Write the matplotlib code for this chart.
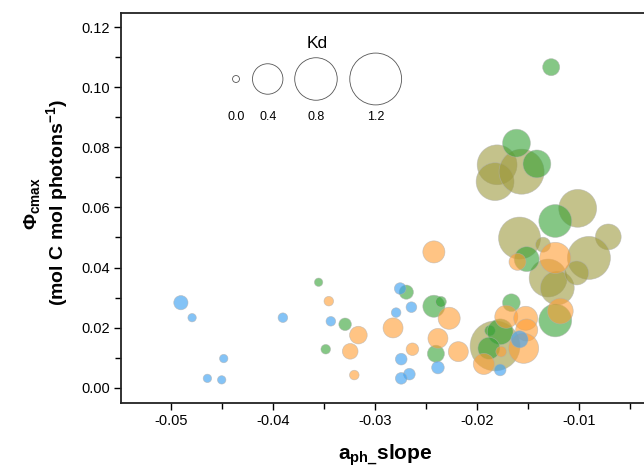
import numpy as np
import matplotlib
matplotlib.use("Agg")
import matplotlib.pyplot as plt
from matplotlib.ticker import MultipleLocator

plt.rcParams["font.family"] = ["Liberation Sans", "DejaVu Sans"]
plt.rcParams["mathtext.fontset"] = "custom"
plt.rcParams["mathtext.rm"] = "Liberation Sans"
plt.rcParams["mathtext.bf"] = "Liberation Sans:bold"

# data (x = a_ph slope, y = phi_cmax, kd = bubble size)
blue_x = [-0.0490, -0.0479, -0.0448, -0.0464, -0.0450, -0.0390, -0.0343, -0.0275,
          -0.0264, -0.0279, -0.0274, -0.0266, -0.0274, -0.0238, -0.0158, -0.0177]
blue_y = [0.0283, 0.0233, 0.0097, 0.0031, 0.0026, 0.0233, 0.0221, 0.0330,
          0.0268, 0.0250, 0.0095, 0.0045, 0.0031, 0.0067, 0.0161, 0.0059]
blue_kd = [0.07, 0.01, 0.01, 0.01, 0.01, 0.02, 0.02, 0.04,
           0.03, 0.02, 0.04, 0.04, 0.04, 0.05, 0.11, 0.04]

green_x = [-0.0355, -0.0329, -0.0348, -0.0269, -0.0242, -0.0235, -0.0240, -0.0166, -0.0187,
           -0.0177, -0.0188, -0.0123, -0.0151, -0.0161, -0.0141, -0.0123, -0.0127]
green_y = [0.0351, 0.0211, 0.0128, 0.0318, 0.0271, 0.0286, 0.0113, 0.0283, 0.0190,
           0.0186, 0.0131, 0.0224, 0.0428, 0.0814, 0.0745, 0.0555, 0.1067]
green_kd = [0.01, 0.05, 0.02, 0.07, 0.20, 0.03, 0.11, 0.12, 0.03,
            0.28, 0.20, 0.47, 0.26, 0.33, 0.33, 0.47, 0.11]

orange_x = [-0.0345, -0.0316, -0.0324, -0.0320, -0.0282, -0.0263, -0.0242, -0.0227, -0.0238, -0.0218,
            -0.0193, -0.0176, -0.0171, -0.0152, -0.0151, -0.0154, -0.0118, -0.0160, -0.0123]
orange_y = [0.0288, 0.0175, 0.0121, 0.0042, 0.0199, 0.0128, 0.0452, 0.0231, 0.0164, 0.0120,
            0.0079, 0.0120, 0.0236, 0.0231, 0.0192, 0.0131, 0.0255, 0.0419, 0.0432]
orange_kd = [0.02, 0.12, 0.09, 0.02, 0.16, 0.05, 0.20, 0.20, 0.16, 0.16,
             0.18, 0.03, 0.22, 0.24, 0.20, 0.39, 0.28, 0.11, 0.42]

olive_x = [-0.0182, -0.0180, -0.0182, -0.0156, -0.0101, -0.0071,
           -0.0158, -0.0135, -0.0090, -0.0130, -0.0121, -0.0102]
olive_y = [0.0139, 0.0742, 0.0686, 0.0719, 0.0597, 0.0502,
           0.0498, 0.0476, 0.0432, 0.0365, 0.0332, 0.0382]
olive_kd = [1.11, 0.70, 0.63, 0.90, 0.63, 0.28,
            0.78, 0.08, 0.82, 0.63, 0.50, 0.24]

legend_kd = [0.0, 0.4, 0.8, 1.2]


def kd_to_size(kd):
    # bubble area grows linearly with Kd
    return 25 + 1140 * np.asarray(kd)


fig = plt.figure(figsize=(6.44, 4.72), dpi=100)
ax = fig.add_axes([121 / 644, 69.3 / 472, 523 / 644, 390.2 / 472])

groups = [
    (olive_x, olive_y, olive_kd, "#9e9a3e", 0.6),
    (green_x, green_y, green_kd, "#34a234", 0.6),
    (orange_x, orange_y, orange_kd, "#ff9d33", 0.6),
    (blue_x, blue_y, blue_kd, "#42a3f2", 0.65),
]
for gx, gy, gkd, col, a in groups:
    ax.scatter(gx, gy, s=kd_to_size(gkd), color=col, alpha=a,
               edgecolors="#b0b0b0", linewidths=0.5, zorder=3)

# Kd size key
key_x = [0.2199, 0.2805, 0.3728, 0.4870]
ax.scatter(key_x, [0.8296] * 4, s=kd_to_size(legend_kd), transform=ax.transAxes,
           facecolors="none", edgecolors="#555555", linewidths=0.6, clip_on=False, zorder=4)
for kx, k in zip(key_x, legend_kd):
    ax.text(kx, 0.732, f"{k:.1f}", transform=ax.transAxes, ha="center", va="center", fontsize=9)
ax.text(0.3759, 0.9218, "Kd", transform=ax.transAxes, ha="center", va="center", fontsize=12.5)

ax.set_xlim(-0.05487, -0.0036)
ax.set_ylim(-0.005, 0.1249)
ax.xaxis.set_major_locator(MultipleLocator(0.01))
ax.xaxis.set_minor_locator(MultipleLocator(0.005))
ax.yaxis.set_major_locator(MultipleLocator(0.02))
ax.yaxis.set_minor_locator(MultipleLocator(0.01))
ax.xaxis.set_major_formatter(plt.FuncFormatter(lambda v, p: f"{v:.2f}"))
ax.yaxis.set_major_formatter(plt.FuncFormatter(lambda v, p: f"{v:.2f}"))
ax.tick_params(which="major", direction="out", length=5, width=1, labelsize=10.5, pad=3)
ax.tick_params(which="minor", direction="out", length=4, width=1)
ax.spines["right"].set_visible(False)
for sp in ["left", "bottom", "top"]:
    ax.spines[sp].set_linewidth(1.3)
    ax.spines[sp].set_color("#222222")

fig.text(47 / 644, 1 - 203 / 472,
         "Φ$_{\\mathbf{cmax}}$\n(mol C mol photons$^{\\mathbf{-1}}$)",
         rotation=90, ha="center", va="center", fontsize=14, fontweight="bold",
         multialignment="center", linespacing=1.1)
fig.text(385 / 644, 1 - 455 / 472, "a$_{\\mathbf{ph\\_}}$slope",
         ha="center", va="center", fontsize=15, fontweight="bold")

fig.savefig("out.png", dpi=100, facecolor="white")
